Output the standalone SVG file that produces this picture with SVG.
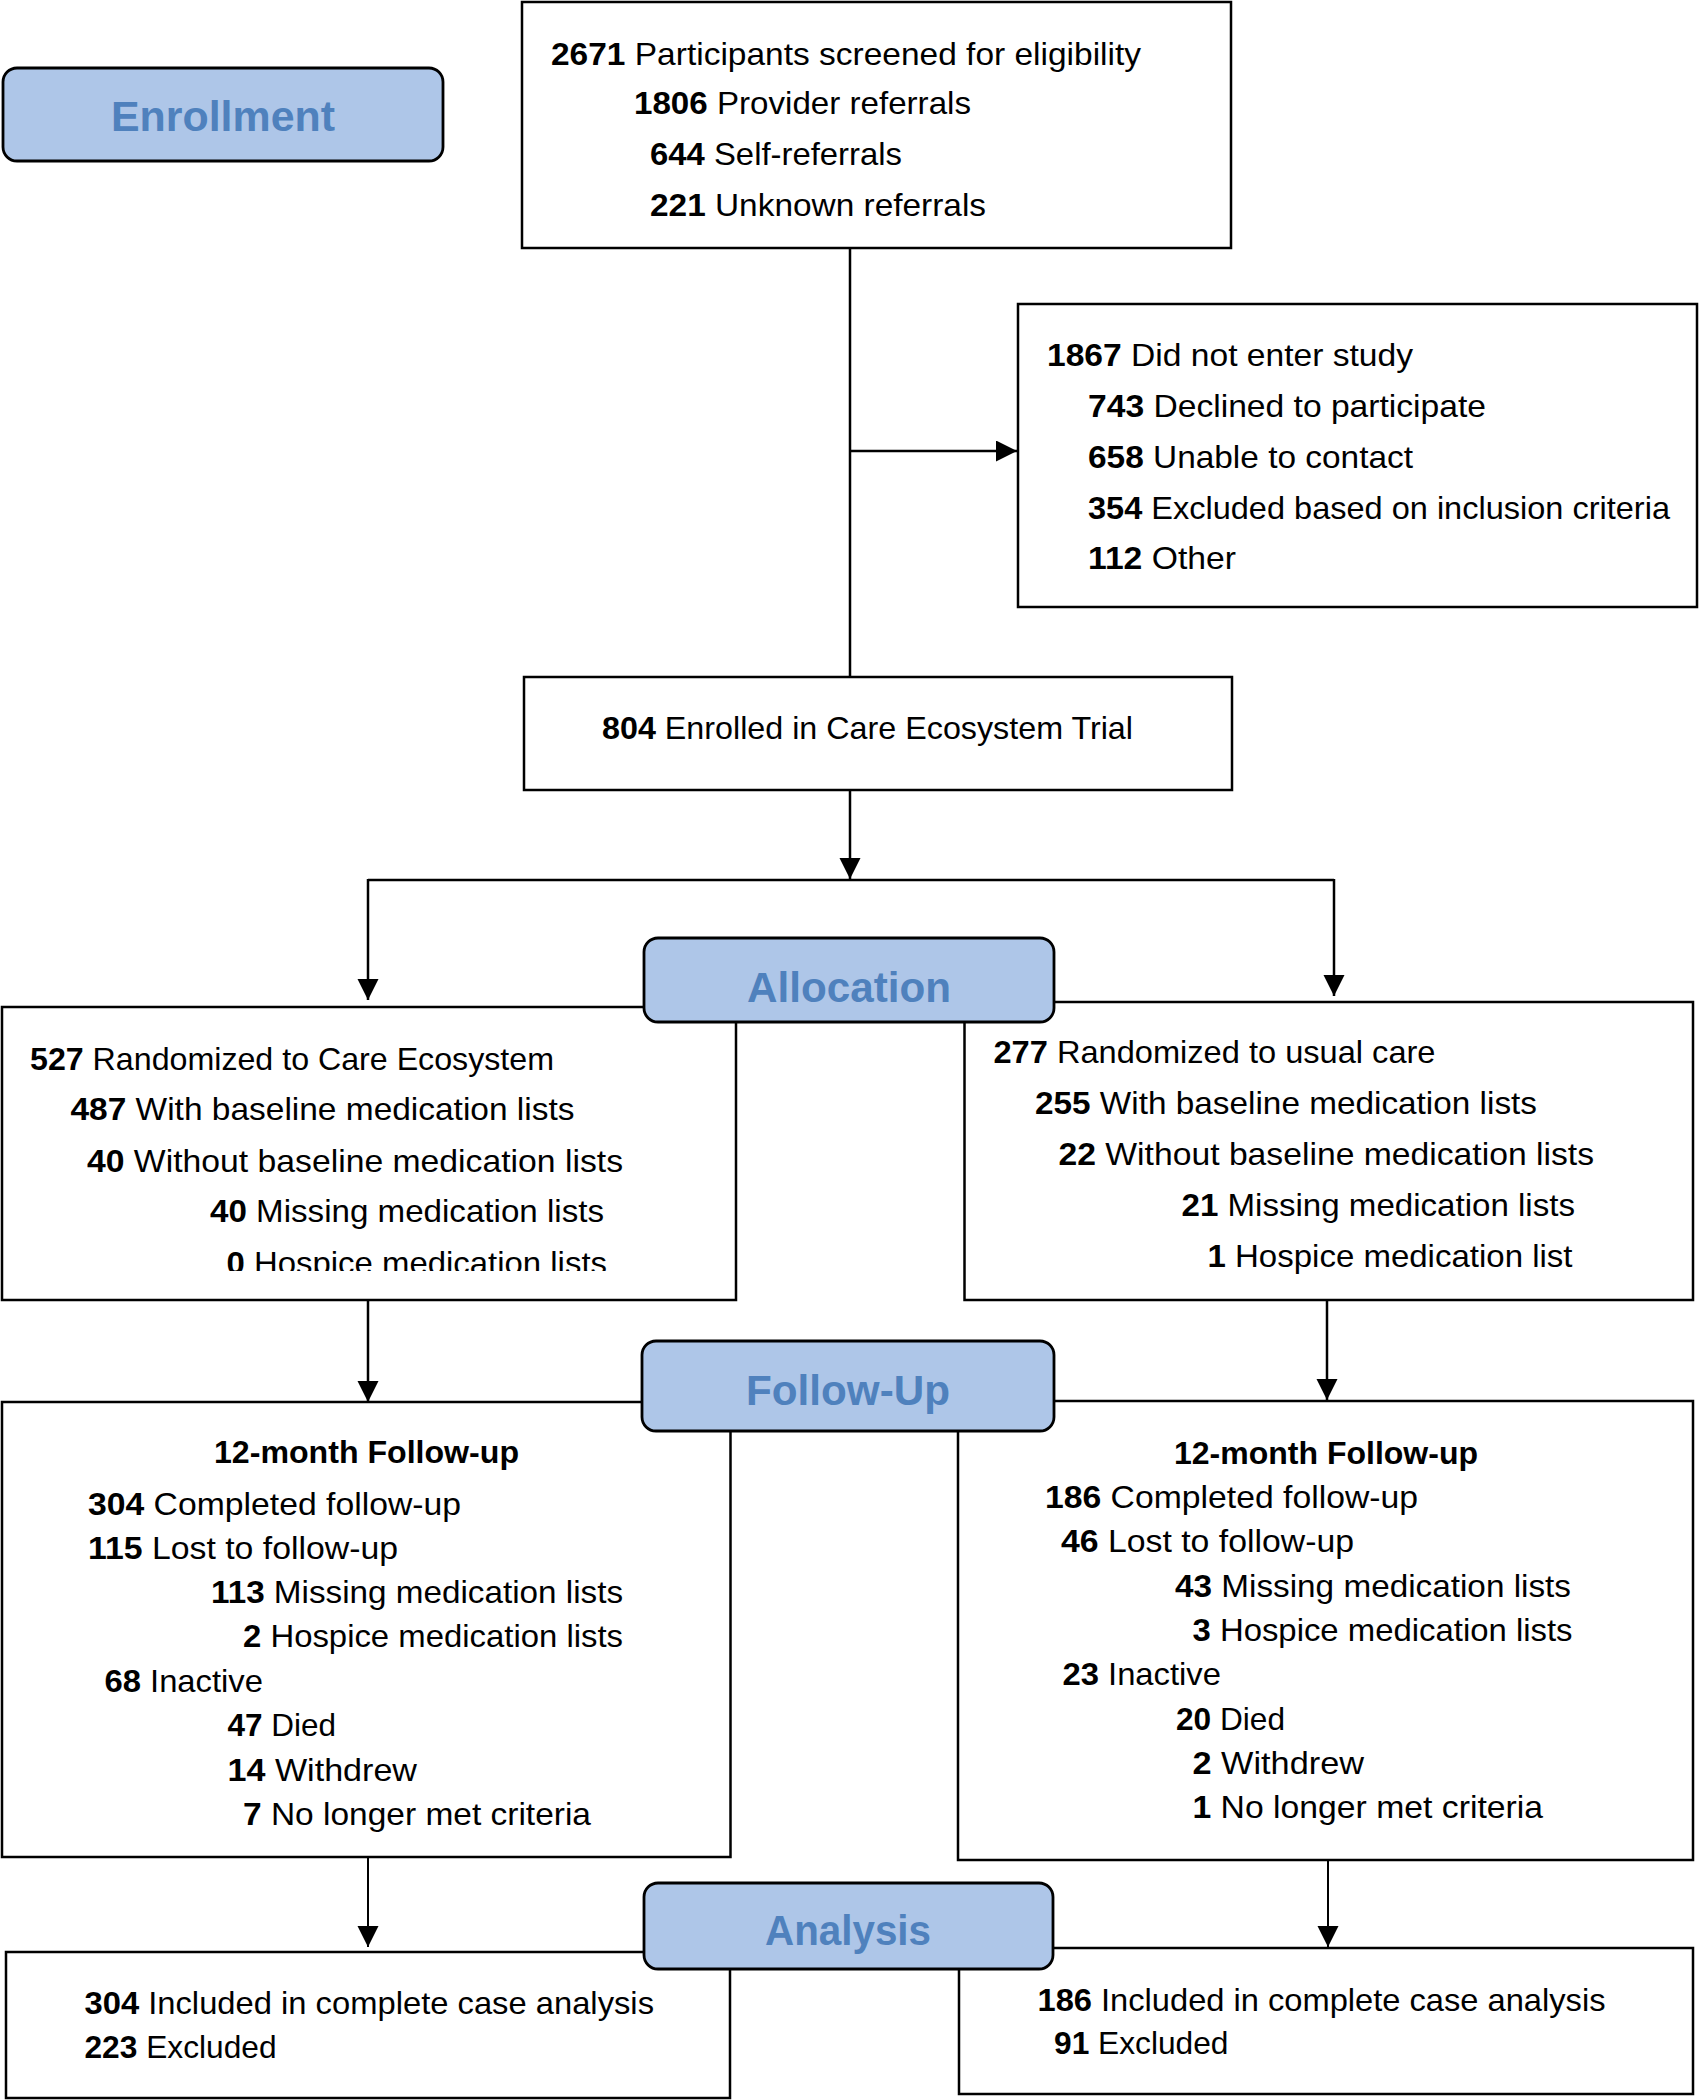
<svg xmlns="http://www.w3.org/2000/svg" width="1700" height="2100" viewBox="0 0 1700 2100">
<style>
  .box { fill: #ffffff; stroke: #000000; stroke-width: 2.5; }
  .phase { fill: #aec6e8; stroke: #000000; stroke-width: 2.8; }
  .phase-t { font-family: "Liberation Sans", Arial, sans-serif; font-size: 42px; font-weight: bold; fill: #4f81bd; }
  .t { font-family: "Liberation Sans", Arial, sans-serif; font-size: 32px; fill: #000000; }
  .b { font-weight: bold; }
  .conn { fill: none; stroke: #000000; stroke-width: 2.5; }
  .conn-thin { fill: none; stroke: #000000; stroke-width: 2; }
</style>
<defs>
  <marker id="arrow" markerUnits="userSpaceOnUse" markerWidth="22" markerHeight="22" refX="21" refY="10.5" orient="auto">
    <path d="M0,0 L21,10.5 L0,21 Z" fill="#000000"/>
  </marker>
  <clipPath id="clipLeftAlloc">
    <rect x="0" y="1000" width="740" height="271"/>
  </clipPath>
</defs>
<rect x="0" y="0" width="1700" height="2100" fill="#ffffff"/>

<g id="connectors">
  <line class="conn" x1="850" y1="248" x2="850" y2="677"/>
  <line class="conn" x1="850" y1="451" x2="1017" y2="451" marker-end="url(#arrow)"/>
  <line class="conn" x1="850" y1="790" x2="850" y2="879" marker-end="url(#arrow)"/>
  <line class="conn" x1="368" y1="880" x2="1334" y2="880"/>
  <line class="conn" x1="368" y1="879" x2="368" y2="1000" marker-end="url(#arrow)"/>
  <line class="conn" x1="1334" y1="879" x2="1334" y2="996" marker-end="url(#arrow)"/>
  <line class="conn" x1="368" y1="1300" x2="368" y2="1402" marker-end="url(#arrow)"/>
  <line class="conn" x1="1327" y1="1300" x2="1327" y2="1400" marker-end="url(#arrow)"/>
  <line class="conn-thin" x1="368" y1="1857" x2="368" y2="1947" marker-end="url(#arrow)"/>
  <line class="conn-thin" x1="1328" y1="1860" x2="1328" y2="1947" marker-end="url(#arrow)"/>
</g>

<g id="screened">
  <rect class="box" x="522" y="2" width="709" height="246"/>
  <text class="t" x="551" y="65" textLength="590" lengthAdjust="spacingAndGlyphs"><tspan class="b">2671</tspan> Participants screened for eligibility</text>
  <text class="t" x="634" y="114" textLength="337" lengthAdjust="spacingAndGlyphs"><tspan class="b">1806</tspan> Provider referrals</text>
  <text class="t" x="650" y="165" textLength="252" lengthAdjust="spacingAndGlyphs"><tspan class="b">644</tspan> Self-referrals</text>
  <text class="t" x="650" y="216" textLength="336" lengthAdjust="spacingAndGlyphs"><tspan class="b">221</tspan> Unknown referrals</text>
</g>

<g id="not-entered">
  <rect class="box" x="1018" y="304" width="679" height="303"/>
  <text class="t" x="1047" y="366" textLength="366" lengthAdjust="spacingAndGlyphs"><tspan class="b">1867</tspan> Did not enter study</text>
  <text class="t" x="1088" y="417" textLength="398" lengthAdjust="spacingAndGlyphs"><tspan class="b">743</tspan> Declined to participate</text>
  <text class="t" x="1088" y="468" textLength="325" lengthAdjust="spacingAndGlyphs"><tspan class="b">658</tspan> Unable to contact</text>
  <text class="t" x="1088" y="519" textLength="582" lengthAdjust="spacingAndGlyphs"><tspan class="b">354</tspan> Excluded based on inclusion criteria</text>
  <text class="t" x="1088" y="569" textLength="148" lengthAdjust="spacingAndGlyphs"><tspan class="b">112</tspan> Other</text>
</g>

<g id="enrolled">
  <rect class="box" x="524" y="677" width="708" height="113"/>
  <text class="t" x="602" y="739" textLength="531" lengthAdjust="spacingAndGlyphs"><tspan class="b">804</tspan> Enrolled in Care Ecosystem Trial</text>
</g>

<g id="care-ecosystem">
  <rect class="box" x="2" y="1007" width="734" height="293"/>
  <text class="t" x="30" y="1070" textLength="524" lengthAdjust="spacingAndGlyphs"><tspan class="b">527</tspan> Randomized to Care Ecosystem</text>
  <text class="t" x="70.5" y="1120" textLength="504" lengthAdjust="spacingAndGlyphs"><tspan class="b">487</tspan> With baseline medication lists</text>
  <text class="t" x="87" y="1172" textLength="536" lengthAdjust="spacingAndGlyphs"><tspan class="b">40</tspan> Without baseline medication lists</text>
  <text class="t" x="210" y="1222" textLength="394" lengthAdjust="spacingAndGlyphs"><tspan class="b">40</tspan> Missing medication lists</text>
  <text class="t" x="226.5" y="1274" textLength="380.5" lengthAdjust="spacingAndGlyphs" clip-path="url(#clipLeftAlloc)"><tspan class="b">0</tspan> Hospice medication lists</text>
</g>

<g id="usual-care">
  <rect class="box" x="964.5" y="1002" width="728.5" height="298"/>
  <text class="t" x="993.5" y="1063" textLength="442" lengthAdjust="spacingAndGlyphs"><tspan class="b">277</tspan> Randomized to usual care</text>
  <text class="t" x="1035" y="1114" textLength="502" lengthAdjust="spacingAndGlyphs"><tspan class="b">255</tspan> With baseline medication lists</text>
  <text class="t" x="1058.5" y="1165" textLength="535.5" lengthAdjust="spacingAndGlyphs"><tspan class="b">22</tspan> Without baseline medication lists</text>
  <text class="t" x="1181.5" y="1216" textLength="393.5" lengthAdjust="spacingAndGlyphs"><tspan class="b">21</tspan> Missing medication lists</text>
  <text class="t" x="1207.5" y="1267" textLength="365" lengthAdjust="spacingAndGlyphs"><tspan class="b">1</tspan> Hospice medication list</text>
</g>

<g id="followup-left">
  <rect class="box" x="2" y="1402" width="728.5" height="455"/>
  <text class="t b" x="214" y="1463" textLength="305" lengthAdjust="spacingAndGlyphs">12-month Follow-up</text>
  <text class="t" x="88" y="1514.5" textLength="373" lengthAdjust="spacingAndGlyphs"><tspan class="b">304</tspan> Completed follow-up</text>
  <text class="t" x="88" y="1559" textLength="310" lengthAdjust="spacingAndGlyphs"><tspan class="b">115</tspan> Lost to follow-up</text>
  <text class="t" x="211" y="1603" textLength="412" lengthAdjust="spacingAndGlyphs"><tspan class="b">113</tspan> Missing medication lists</text>
  <text class="t" x="243" y="1647" textLength="380" lengthAdjust="spacingAndGlyphs"><tspan class="b">2</tspan> Hospice medication lists</text>
  <text class="t" x="104.5" y="1691.5" textLength="158.5" lengthAdjust="spacingAndGlyphs"><tspan class="b">68</tspan> Inactive</text>
  <text class="t" x="227.5" y="1736" textLength="108.5" lengthAdjust="spacingAndGlyphs"><tspan class="b">47</tspan> Died</text>
  <text class="t" x="227.5" y="1780.5" textLength="189.5" lengthAdjust="spacingAndGlyphs"><tspan class="b">14</tspan> Withdrew</text>
  <text class="t" x="243" y="1825" textLength="348" lengthAdjust="spacingAndGlyphs"><tspan class="b">7</tspan> No longer met criteria</text>
</g>

<g id="followup-right">
  <rect class="box" x="958" y="1401" width="735" height="459"/>
  <text class="t b" x="1174" y="1463.5" textLength="304" lengthAdjust="spacingAndGlyphs">12-month Follow-up</text>
  <text class="t" x="1045" y="1508" textLength="373" lengthAdjust="spacingAndGlyphs"><tspan class="b">186</tspan> Completed follow-up</text>
  <text class="t" x="1061" y="1552" textLength="293" lengthAdjust="spacingAndGlyphs"><tspan class="b">46</tspan> Lost to follow-up</text>
  <text class="t" x="1175" y="1597" textLength="396" lengthAdjust="spacingAndGlyphs"><tspan class="b">43</tspan> Missing medication lists</text>
  <text class="t" x="1192.5" y="1641" textLength="380" lengthAdjust="spacingAndGlyphs"><tspan class="b">3</tspan> Hospice medication lists</text>
  <text class="t" x="1062.5" y="1685" textLength="158.5" lengthAdjust="spacingAndGlyphs"><tspan class="b">23</tspan> Inactive</text>
  <text class="t" x="1176" y="1729.5" textLength="109" lengthAdjust="spacingAndGlyphs"><tspan class="b">20</tspan> Died</text>
  <text class="t" x="1192.5" y="1774" textLength="171.5" lengthAdjust="spacingAndGlyphs"><tspan class="b">2</tspan> Withdrew</text>
  <text class="t" x="1192.5" y="1818" textLength="350.5" lengthAdjust="spacingAndGlyphs"><tspan class="b">1</tspan> No longer met criteria</text>
</g>

<g id="analysis-left">
  <rect class="box" x="6" y="1952" width="724" height="146"/>
  <text class="t" x="84.5" y="2014" textLength="569.5" lengthAdjust="spacingAndGlyphs"><tspan class="b">304</tspan> Included in complete case analysis</text>
  <text class="t" x="84.5" y="2058" textLength="192" lengthAdjust="spacingAndGlyphs"><tspan class="b">223</tspan> Excluded</text>
</g>

<g id="analysis-right">
  <rect class="box" x="959" y="1948" width="734" height="146"/>
  <text class="t" x="1037.5" y="2010.5" textLength="568" lengthAdjust="spacingAndGlyphs"><tspan class="b">186</tspan> Included in complete case analysis</text>
  <text class="t" x="1054" y="2054" textLength="174.5" lengthAdjust="spacingAndGlyphs"><tspan class="b">91</tspan> Excluded</text>
</g>

<g id="phase-enrollment">
  <rect class="phase" x="3" y="68" width="440" height="93" rx="14" ry="14"/>
  <text class="phase-t" x="111" y="131" textLength="224" lengthAdjust="spacingAndGlyphs">Enrollment</text>
</g>
<g id="phase-allocation">
  <rect class="phase" x="644" y="938" width="410" height="84" rx="14" ry="14"/>
  <text class="phase-t" x="747" y="1002" textLength="204" lengthAdjust="spacingAndGlyphs">Allocation</text>
</g>
<g id="phase-followup">
  <rect class="phase" x="642" y="1341" width="412" height="90" rx="14" ry="14"/>
  <text class="phase-t" x="746" y="1405" textLength="204" lengthAdjust="spacingAndGlyphs">Follow-Up</text>
</g>
<g id="phase-analysis">
  <rect class="phase" x="644" y="1883" width="409" height="86" rx="14" ry="14"/>
  <text class="phase-t" x="765" y="1945" textLength="166" lengthAdjust="spacingAndGlyphs">Analysis</text>
</g>
</svg>
